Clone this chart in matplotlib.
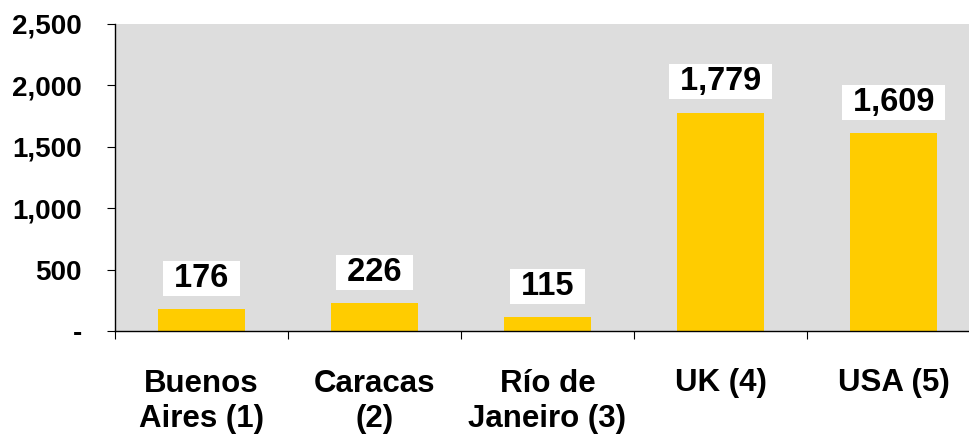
import matplotlib
matplotlib.use("Agg")
import matplotlib.pyplot as plt
from matplotlib.ticker import FuncFormatter, FixedLocator
import numpy as np

categories = ["Buenos\nAires (1)", "Caracas\n(2)", "Río de\nJaneiro (3)", "UK (4)", "USA (5)"]
values = [176, 226, 115, 1779, 1609]
yticks = [0, 500, 1000, 1500, 2000, 2500]

plt.rcParams['font.family'] = ['Liberation Sans', 'DejaVu Sans']
plt.rcParams['font.weight'] = 'bold'

fig = plt.figure(figsize=(9.69, 4.34), dpi=100)
ax = fig.add_axes([115/969, (434-331)/434, 865/969, 307/434])
ax.set_facecolor('#DDDDDD')

x = np.arange(len(categories))
bars = ax.bar(x, values, width=0.5, color='#FFCC00', zorder=2)

for xi, v in zip(x, values):
    ax.annotate(" {:,} ".format(v), (xi, v), xytext=(0, 11), textcoords='offset points',
                ha='center', va='bottom', fontsize=23.5, fontweight='bold',
                bbox=dict(boxstyle='square,pad=0.06', fc='white', ec='none'), zorder=3)

ax.set_xlim(-0.5, len(categories) - 0.5)
ax.set_ylim(0, 2500)
ax.set_yticks(yticks)
ax.yaxis.set_major_formatter(FuncFormatter(lambda v, p: "-" if v == 0 else "{:,.0f}".format(v)))
ax.tick_params(axis='y', labelsize=20, length=6, width=0.8, pad=18, direction='out')

ax.set_xticks(x)
ax.set_xticklabels(categories, fontsize=22.5, fontweight='bold', linespacing=1.22)
ax.tick_params(axis='x', which='major', length=0, pad=27)
ax.xaxis.set_minor_locator(FixedLocator(np.arange(len(categories) + 1) - 0.5))
ax.tick_params(axis='x', which='minor', length=6, width=0.8, direction='out')

for s in ['top', 'right']:
    ax.spines[s].set_visible(False)
for s in ['left', 'bottom']:
    ax.spines[s].set_color('black')
    ax.spines[s].set_linewidth(1.0)

fig.savefig("out.png", dpi=100)
